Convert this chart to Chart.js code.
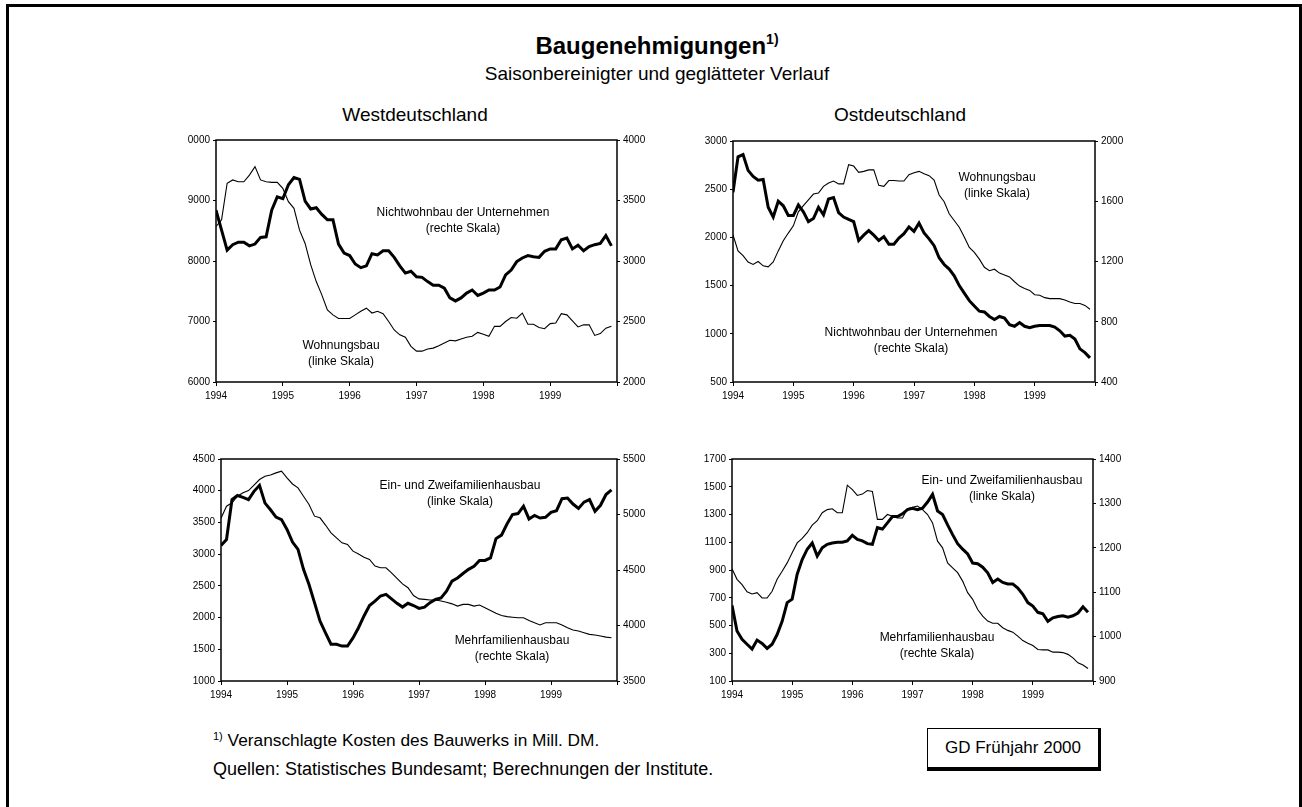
<!DOCTYPE html>
<html lang="de">
<head>
<meta charset="utf-8">
<title>Baugenehmigungen</title>
<script src="https://cdn.jsdelivr.net/npm/chart.js@4.4.1/dist/chart.umd.min.js"></script>
<style>
  html, body { margin: 0; padding: 0; background: #fff; }
  body { width: 1302px; height: 807px; position: relative; overflow: hidden;
         font-family: "Liberation Sans", Arial, sans-serif; color: #000; }
  .frame { position: absolute; left: 6px; top: 4px; width: 1296px; height: 830px; box-sizing: border-box;
           border: 3px solid #000; border-bottom: none; }
  .txt { position: absolute; white-space: nowrap; line-height: 1; }
  .mid { text-align: center; width: 600px; }
  .note { position: absolute; width: 300px; text-align: center; font-size: 12px; line-height: 15.5px; white-space: nowrap; }
  canvas { position: absolute; }
  .gd { position: absolute; left: 927px; top: 728px; width: 174px; height: 43px; box-sizing: border-box;
        border: 1px solid #000; border-right-width: 3px; border-bottom-width: 4px;
        font-size: 17px; text-align: center; line-height: 37px; }
</style>
</head>
<body>
<div class="frame"></div>

<div class="txt mid" style="left:357px; top:32px; font-size:24px; font-weight:bold;">Baugenehmigungen<sup style="font-size:14px; vertical-align:10px;">1)</sup></div>
<div class="txt mid" style="left:357px; top:64px; font-size:19px;">Saisonbereinigter und geglätteter Verlauf</div>
<div class="txt mid" style="left:115px; top:105px; font-size:19px;">Westdeutschland</div>
<div class="txt mid" style="left:600px; top:105px; font-size:19px;">Ostdeutschland</div>

<canvas id="westOben"></canvas>
<canvas id="ostOben"></canvas>
<canvas id="westUnten"></canvas>
<canvas id="ostUnten"></canvas>

<div class="note" style="left:313px; top:205px;">Nichtwohnbau der Unternehmen<br>(rechte Skala)</div>
<div class="note" style="left:191px; top:338px;">Wohnungsbau<br>(linke Skala)</div>
<div class="note" style="left:847px; top:170px;">Wohnungsbau<br>(linke Skala)</div>
<div class="note" style="left:761px; top:325px;">Nichtwohnbau der Unternehmen<br>(rechte Skala)</div>
<div class="note" style="left:310px; top:478px;">Ein- und Zweifamilienhausbau<br>(linke Skala)</div>
<div class="note" style="left:362px; top:633px;">Mehrfamilienhausbau<br>(rechte Skala)</div>
<div class="note" style="left:852px; top:473px;">Ein- und Zweifamilienhausbau<br>(linke Skala)</div>
<div class="note" style="left:787px; top:630px;">Mehrfamilienhausbau<br>(rechte Skala)</div>

<div class="txt" style="left:213px; top:731px; font-size:17.3px;"><sup style="font-size:11px; vertical-align:6px;">1)</sup> Veranschlagte Kosten des Bauwerks in Mill. DM.</div>
<div class="txt" style="left:213px; top:760px; font-size:18px;">Quellen: Statistisches Bundesamt; Berechnungen der Institute.</div>
<div class="gd">GD Frühjahr 2000</div>

<script>
// Monatswerte Jan 1994 - Dez 1999
const years = ['1994', '1995', '1996', '1997', '1998', '1999'];

// Westdeutschland oben
const westWohnungsbau = [
  8570, 8680, 9285, 9340, 9310, 9310, 9420, 9560, 9340, 9310, 9300, 9300,
  9200, 8980, 8870, 8510, 8290, 7940, 7660, 7440, 7190, 7110, 7050, 7050,
  7050, 7110, 7170, 7220, 7140, 7170, 7130, 7000, 6860, 6780, 6740, 6590,
  6510, 6510, 6545, 6560, 6600, 6645, 6690, 6680, 6710, 6740, 6755, 6820,
  6790, 6755, 6920, 6920, 7000, 7065, 7055, 7140, 6955, 6955, 6900, 6880,
  6965, 6975, 7130, 7110, 7010, 6910, 6945, 6945, 6770, 6800, 6890, 6920
];
const westNichtwohnbau = [
  3420, 3255, 3090, 3135, 3155, 3155, 3125, 3140, 3195, 3200, 3420, 3530,
  3515, 3630, 3690, 3675, 3495, 3430, 3440, 3385, 3340, 3340, 3140, 3065,
  3045, 2975, 2945, 2960, 3060, 3050, 3085, 3085, 3030, 2960, 2900, 2915,
  2870, 2865, 2830, 2800, 2800, 2775, 2695, 2670, 2695, 2735, 2760, 2715,
  2735, 2760, 2760, 2785, 2885, 2925, 2995, 3025, 3045, 3035, 3030, 3080,
  3100, 3100, 3175, 3190, 3100, 3130, 3085, 3120, 3135, 3145, 3210, 3125
];
const westObenLinks = ['6000', '7000', '8000', '9000', '0000'];
const westObenRechts = ['2000', '2500', '3000', '3500', '4000'];

// Ostdeutschland oben
const ostWohnungsbau = [
  2025, 1860, 1810, 1745, 1720, 1750, 1705, 1695, 1745, 1860, 1965, 2045,
  2120, 2265, 2330, 2390, 2450, 2460, 2530, 2565, 2585, 2555, 2555, 2755,
  2740, 2675, 2685, 2700, 2700, 2540, 2530, 2590, 2590, 2585, 2585, 2650,
  2670, 2685, 2660, 2640, 2595, 2440, 2370, 2245, 2175, 2105, 2005, 1895,
  1845, 1775, 1690, 1655, 1670, 1630, 1610, 1590, 1540, 1495, 1470, 1450,
  1405, 1400, 1375, 1365, 1365, 1365, 1350, 1330, 1315, 1315, 1295, 1255
];
const ostNichtwohnbau = [
  1660, 1895, 1910, 1805, 1765, 1740, 1745, 1560, 1495, 1600, 1570, 1505,
  1505, 1575, 1530, 1465, 1485, 1560, 1510, 1615, 1625, 1525, 1495, 1480,
  1465, 1340, 1375, 1405, 1375, 1340, 1365, 1315, 1315, 1355, 1385, 1430,
  1400, 1455, 1390, 1350, 1305, 1225, 1180, 1150, 1105, 1040, 990, 940,
  905, 870, 865, 835, 815, 835, 825, 780, 770, 795, 770, 760,
  770, 775, 775, 775, 765, 740, 705, 710, 685, 620, 595, 560
];
const ostObenLinks = ['500', '1000', '1500', '2000', '2500', '3000'];
const ostObenRechts = ['400', '800', '1200', '1600', '2000'];

// Westdeutschland unten
const westEinZweiFam = [
  3135, 3230, 3860, 3925, 3895, 3860, 3990, 4085, 3805, 3700, 3585, 3545,
  3390, 3190, 3075, 2760, 2520, 2235, 1945, 1760, 1580, 1580, 1550, 1550,
  1680, 1840, 2025, 2190, 2260, 2340, 2365, 2295, 2225, 2165, 2225, 2190,
  2145, 2165, 2235, 2285, 2310, 2415, 2575, 2625, 2695, 2760, 2810, 2900,
  2900, 2940, 3245, 3300, 3475, 3625, 3640, 3755, 3555, 3610, 3570, 3580,
  3660, 3685, 3875, 3885, 3790, 3720, 3820, 3860, 3675, 3770, 3940, 4015
];
const westMehrFam = [
  4965, 5075, 5105, 5165, 5195, 5215, 5265, 5315, 5345, 5355, 5375, 5390,
  5330, 5275, 5240, 5165, 5090, 4985, 4970, 4905, 4835, 4790, 4745, 4730,
  4670, 4645, 4615, 4595, 4535, 4520, 4520, 4475, 4425, 4375, 4340, 4270,
  4240, 4235, 4230, 4230, 4220, 4210, 4195, 4175, 4190, 4190, 4175, 4185,
  4160, 4135, 4110, 4090, 4080, 4075, 4070, 4070, 4045, 4025, 4005, 4025,
  4025, 4025, 4005, 3980, 3960, 3950, 3935, 3920, 3915, 3905, 3895, 3890
];
const westUntenLinks = ['1000', '1500', '2000', '2500', '3000', '3500', '4000', '4500'];
const westUntenRechts = ['3500', '4000', '4500', '5000', '5500'];

// Ostdeutschland unten
const ostEinZweiFam = [
  645, 460, 400, 365, 330, 395, 370, 335, 365, 435, 530, 665,
  690, 870, 975, 1050, 1095, 1000, 1060, 1085, 1095, 1100, 1100, 1110,
  1150, 1120, 1110, 1090, 1085, 1205, 1195, 1240, 1285, 1285, 1305, 1335,
  1345, 1335, 1345, 1390, 1445, 1325, 1300, 1225, 1155, 1090, 1050, 1015,
  950, 945, 920, 880, 810, 835, 810, 800, 800, 770, 725, 665,
  640, 595, 585, 530, 555, 565, 570, 560, 570, 590, 635, 595
];
const ostMehrFam = [
  1153, 1129, 1117, 1101, 1096, 1099, 1087, 1087, 1102, 1129, 1147, 1166,
  1189, 1211, 1221, 1234, 1251, 1261, 1279, 1286, 1288, 1279, 1279, 1341,
  1331, 1318, 1321, 1329, 1327, 1264, 1264, 1275, 1271, 1267, 1267, 1288,
  1291, 1294, 1286, 1275, 1256, 1215, 1200, 1166, 1155, 1144, 1125, 1099,
  1084, 1061, 1046, 1035, 1030, 1030, 1020, 1014, 1010, 1001, 991, 985,
  980, 971, 970, 970, 965, 965, 964, 960, 952, 941, 936, 928
];
const ostUntenLinks = ['100', '300', '500', '700', '900', '1100', '1300', '1500', '1700'];
const ostUntenRechts = ['900', '1000', '1100', '1200', '1300', '1400'];

Chart.defaults.font.family = '"Liberation Sans", Arial, sans-serif';
Chart.defaults.font.size = 10;
Chart.defaults.color = '#000';

// Rahmen um die Zeichenfläche
const rahmen = {
  id: 'rahmen',
  afterDraw(chart) {
    const a = chart.chartArea, ctx = chart.ctx;
    ctx.save();
    ctx.strokeStyle = '#000';
    ctx.lineWidth = 1.5;
    ctx.strokeRect(a.left, a.top, a.right - a.left, a.bottom - a.top);
    ctx.restore();
  }
};

const punkte = values => values.map((y, i) => ({ x: i, y }));

function achse(pos, min, max, step, labels) {
  return {
    type: 'linear', position: pos, min, max,
    ticks: { stepSize: step, padding: 3, callback: (v, i) => labels[i] },
    grid: { drawOnChartArea: false, tickLength: 3, color: '#000' },
    border: { display: false },
    afterFit: s => { s.width = 60; }
  };
}

function panel(id, box, links, rechts, dicke, duenne) {
  const cv = document.getElementById(id);
  cv.width = box.w + 120;
  cv.height = box.h + 40;
  cv.style.left = (box.l - 60) + 'px';
  cv.style.top = (box.t - 10) + 'px';

  new Chart(cv, {
    type: 'line',
    data: {
      datasets: [
        { data: punkte(dicke.values), yAxisID: dicke.axis, borderColor: '#000', borderWidth: 3, pointRadius: 0, tension: 0 },
        { data: punkte(duenne.values), yAxisID: duenne.axis, borderColor: '#000', borderWidth: 1.1, pointRadius: 0, tension: 0 }
      ]
    },
    options: {
      responsive: false,
      animation: false,
      devicePixelRatio: 1,
      events: [],
      layout: { padding: { top: 10, left: 0, right: 0, bottom: 0 } },
      plugins: { legend: { display: false }, tooltip: { enabled: false } },
      scales: {
        x: {
          type: 'linear', min: 0, max: 72,
          ticks: { stepSize: 12, padding: 4, maxRotation: 0, autoSkip: false, callback: v => years[v / 12] ?? '' },
          grid: { drawOnChartArea: false, tickLength: 4, color: '#000' },
          border: { display: false },
          afterFit: s => { s.height = 30; }
        },
        yl: achse('left', links.min, links.max, links.step, links.labels),
        yr: achse('right', rechts.min, rechts.max, rechts.step, rechts.labels)
      }
    },
    plugins: [rahmen]
  });
}

panel('westOben', { l: 216, t: 140, w: 401, h: 242 },
  { min: 6000, max: 10000, step: 1000, labels: westObenLinks },
  { min: 2000, max: 4000, step: 500, labels: westObenRechts },
  { values: westNichtwohnbau, axis: 'yr' },
  { values: westWohnungsbau, axis: 'yl' });

panel('ostOben', { l: 733, t: 141, w: 362, h: 241 },
  { min: 500, max: 3000, step: 500, labels: ostObenLinks },
  { min: 400, max: 2000, step: 400, labels: ostObenRechts },
  { values: ostNichtwohnbau, axis: 'yr' },
  { values: ostWohnungsbau, axis: 'yl' });

panel('westUnten', { l: 221, t: 459, w: 396, h: 222 },
  { min: 1000, max: 4500, step: 500, labels: westUntenLinks },
  { min: 3500, max: 5500, step: 500, labels: westUntenRechts },
  { values: westEinZweiFam, axis: 'yl' },
  { values: westMehrFam, axis: 'yr' });

panel('ostUnten', { l: 732, t: 459, w: 361, h: 222 },
  { min: 100, max: 1700, step: 200, labels: ostUntenLinks },
  { min: 900, max: 1400, step: 100, labels: ostUntenRechts },
  { values: ostEinZweiFam, axis: 'yl' },
  { values: ostMehrFam, axis: 'yr' });
</script>
</body>
</html>
